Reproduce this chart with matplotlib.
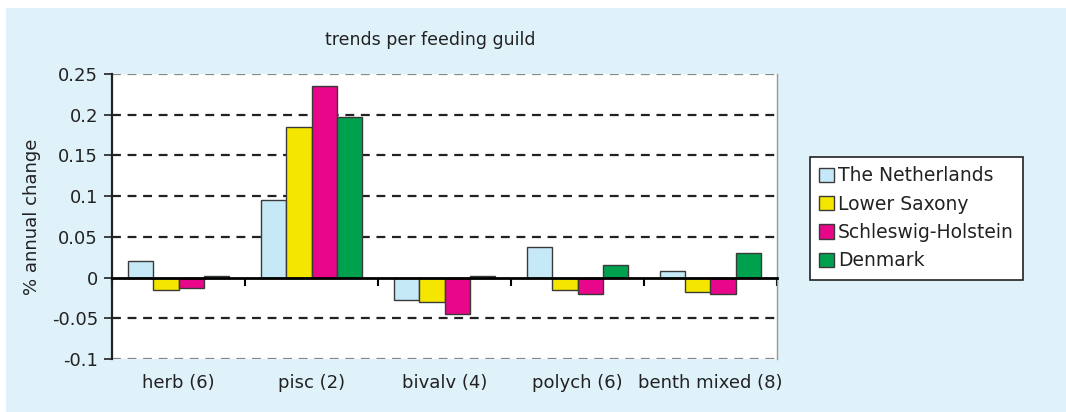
import matplotlib
matplotlib.use("Agg")
import matplotlib.pyplot as plt
from matplotlib.patches import Rectangle
import numpy as np

# data
categories = ["herb (6)", "pisc (2)", "bivalv (4)", "polych (6)", "benth mixed (8)"]
regions = ["The Netherlands", "Lower Saxony", "Schleswig-Holstein", "Denmark"]
netherlands = [0.020, 0.095, -0.0275, 0.037, 0.008]
lower_saxony = [-0.015, 0.185, -0.030, -0.015, -0.018]
schleswig = [-0.013, 0.235, -0.045, -0.020, -0.020]
denmark = [0.002, 0.197, 0.002, 0.015, 0.030]
colors = ["#c6e9f8", "#f5e600", "#e8068a", "#00a14e"]

series = [netherlands, lower_saxony, schleswig, denmark]

fig = plt.figure(figsize=(10.66, 4.12), dpi=100, facecolor="white")
# light blue panel behind everything
fig.patches.append(Rectangle((6 / 1066, 0), 1, (412 - 8) / 412, transform=fig.transFigure,
                             facecolor="#dff2fa", edgecolor="none", zorder=0))

ax = fig.add_axes([112 / 1066, 53 / 412, 665 / 1066, 285 / 412])
ax.set_zorder(2)
ax.set_facecolor("white")

x = np.arange(len(categories))
w = 0.19
for i, (vals, name, c) in enumerate(zip(series, regions, colors)):
    ax.bar(x + (i - 1.5) * w, vals, w, color=c, edgecolor="#3a3a3a", linewidth=1.0,
           label=name, zorder=3)

ax.set_xlim(-0.5, len(categories) - 0.5)
ax.set_ylim(-0.1, 0.25)
yt = [-0.1, -0.05, 0, 0.05, 0.1, 0.15, 0.2, 0.25]
ax.set_yticks(yt)
ax.set_yticklabels(["-0.1", "-0.05", "0", "0.05", "0.1", "0.15", "0.2", "0.25"], fontsize=13)
ax.tick_params(axis="y", direction="out", length=6, width=1.2, pad=4, colors="#222222")

# dashed gridlines
for v in yt:
    if v == 0:
        continue
    col = "#888888" if v in (-0.1, 0.25) else "#222222"
    ax.axhline(v, color=col, linestyle=(0, (4, 3)), linewidth=1.6, zorder=1)

# category axis sits at zero
ax.spines["bottom"].set_position(("data", 0))
ax.spines["bottom"].set_linewidth(2.0)
ax.spines["bottom"].set_zorder(4)
ax.set_xticks(np.arange(len(categories) + 1) - 0.5)
ax.set_xticklabels([])
ax.tick_params(axis="x", direction="out", length=6, width=1.5)
ax.spines["left"].set_linewidth(1.6)
ax.spines["left"].set_color("#222222")
ax.spines["top"].set_visible(False)
ax.spines["right"].set_color("#999999")
ax.spines["right"].set_linewidth(1.0)

for xi, lab in zip(x, categories):
    ax.text(xi, -0.083, lab, transform=ax.get_xaxis_transform(), ha="center", va="center",
            fontsize=13, color="#222222", clip_on=False)

ax.set_ylabel("% annual change", fontsize=13, color="#222222", labelpad=8)
fig.text(430 / 1066, 1 - 40 / 412, "trends per feeding guild", ha="center", va="center",
         fontsize=12.5, color="#222222")

leg = fig.legend(loc="upper left", bbox_to_anchor=(810 / 1066, 1 - 157 / 412),
                 fontsize=13.5, handlelength=0.8, handleheight=0.8, handletextpad=0.2,
                 labelspacing=0.5, borderpad=0.5, borderaxespad=0, frameon=True,
                 fancybox=False, framealpha=1, facecolor="white")
leg.get_frame().set_edgecolor("#222222")
leg.get_frame().set_linewidth(1.2)
leg.set_zorder(3)
for t in leg.get_texts():
    t.set_color("#222222")

plt.savefig("out.png", dpi=100, facecolor=fig.get_facecolor())
